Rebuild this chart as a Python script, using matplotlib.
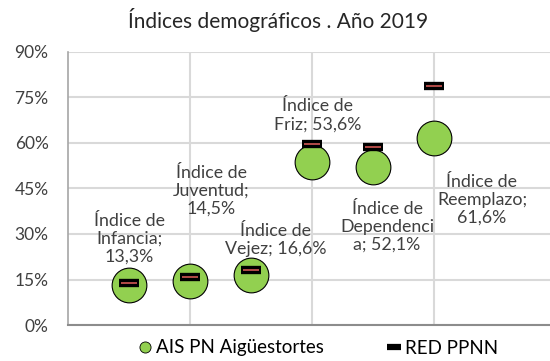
import matplotlib.pyplot as plt
from matplotlib.lines import Line2D
from matplotlib.ticker import FuncFormatter

# Índices demográficos 2019: parque (AIS) frente a la media de la red
indices = ["Infancia", "Juventud", "Vejez", "Friz", "Dependencia", "Reemplazo"]
ais_pn = [13.3, 14.5, 16.6, 53.6, 52.1, 61.6]
red_ppnn = [13.7, 15.7, 18.1, 59.6, 58.6, 78.9]

# texto de cada etiqueta (tal cual se parte en líneas)
etiquetas = [
    "Índice de\nInfancia;\n13,3%",
    "Índice de\nJuventud;\n14,5%",
    "Índice de\nVejez; 16,6%",
    "Índice de\nFriz; 53,6%",
    "Índice de\nDependenci\na; 52,1%",
    "Índice de\nReemplazo;\n61,6%",
]
# desplazamiento de las etiquetas respecto al punto, en píxeles
desp = [(0, 46), (21, 90), (25, 35), (6, 47), (14, -60), (48, -62)]

plt.rcParams['font.family'] = ['Lato', 'DejaVu Sans']

W, H = 550, 361
fig = plt.figure(figsize=(W / 100, H / 100), dpi=100)
ax = fig.add_axes([68 / W, (H - 325) / H, (W - 68) / W, (325 - 52) / H])

xs = list(range(1, len(indices) + 1))

ax.plot(xs, ais_pn, 'o', ms=25, mfc='#92D050', mec='black', mew=0.8,
        ls='none', zorder=3)
ax.plot(xs, red_ppnn, '_', ms=14, mec='black', mew=6, ls='none', zorder=4)
ax.plot(xs, red_ppnn, '_', ms=11, mec='#C0504D', mew=1.3, ls='none', zorder=5)

for x, y, txt, (dx, dy) in zip(xs, ais_pn, etiquetas, desp):
    ax.annotate(txt, (x, y), xytext=(dx, dy), textcoords='offset pixels',
                ha='center', va='center', fontsize=12.8, color='#404040',
                linespacing=1.15, zorder=6)

ax.set_xlim(0, (W - 68) / 61)
ax.set_ylim(0, 90)
ax.set_yticks(range(0, 91, 15))
ax.yaxis.set_major_formatter(FuncFormatter(lambda v, p: f"{v:.0f}%"))
ax.set_xticks([2, 4, 6])
ax.tick_params(axis='x', length=0, labelbottom=False)
ax.tick_params(axis='y', length=0, labelsize=12.5, labelcolor='#404040', pad=14)
ax.grid(True, color='#D9D9D9', lw=1.5)
ax.set_axisbelow(True)

for s in ['top', 'right']:
    ax.spines[s].set_visible(False)
ax.spines['left'].set_color('#A6A6A6')
ax.spines['left'].set_linewidth(1.2)
ax.spines['bottom'].set_color('#8C8C8C')
ax.spines['bottom'].set_linewidth(1.5)

fig.text(278 / W, 1 - 20 / H, "Índices demográficos . Año 2019",
         ha='center', va='center', fontsize=15, color='#262626')

handles = [
    Line2D([], [], marker='o', ls='none', ms=8, mfc='#92D050', mec='black', mew=0.6),
    Line2D([], [], marker='_', ls='none', ms=10, mec='black', mew=4.5),
]
fig.legend(handles, ["AIS PN Aigüestortes", "RED PPNN"], loc='center',
           bbox_to_anchor=(317 / W, 1 - 348 / H), ncol=2, frameon=False,
           fontsize=13.5, handletextpad=0.1, columnspacing=3.2, handlelength=1)

fig.savefig("out.png", dpi=100)
